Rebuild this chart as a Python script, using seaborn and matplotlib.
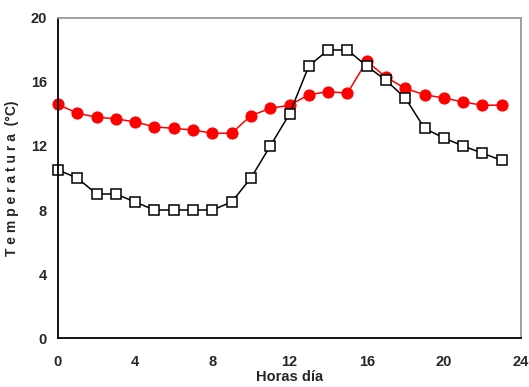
import matplotlib
matplotlib.use("Agg")
import matplotlib.pyplot as plt
import seaborn as sns
import pandas as pd

### hourly values
horas = list(range(24))
temp_rojo = [14.6, 14.05, 13.8, 13.7, 13.5, 13.2, 13.1, 13.0, 12.8, 12.8,
             13.9, 14.35, 14.55, 15.2, 15.4, 15.3, 17.3, 16.3, 15.6, 15.2,
             15.0, 14.75, 14.55, 14.55]
temp_negro = [10.5, 10.0, 9.0, 9.0, 8.5, 8.0, 8.0, 8.0, 8.0, 8.5,
              10.0, 12.0, 14.0, 17.0, 18.0, 18.0, 17.0, 16.1, 15.0, 13.1,
              12.5, 12.0, 11.55, 11.1]
xticks = [0, 4, 8, 12, 16, 20, 24]
yticks = [0, 4, 8, 12, 16, 20]

df = pd.DataFrame({'hora': horas, 'rojo': temp_rojo, 'negro': temp_negro})

sns.set_style('white')
plt.rcParams['font.family'] = ['Liberation Sans', 'DejaVu Sans']

fig = plt.figure(figsize=(5.29, 3.87), dpi=100)
ax = fig.add_axes([0.1096, 0.1266, 0.8754, 0.8269])

sns.lineplot(data=df, x='hora', y='rojo', ax=ax, color='red', lw=1.1,
             marker='o', markersize=8, markeredgecolor='red',
             markerfacecolor='red')
sns.lineplot(data=df, x='hora', y='negro', ax=ax, color='black', lw=1.1,
             marker='s', markersize=7, markeredgecolor='black',
             markerfacecolor='white', markeredgewidth=1.1)
for ln in ax.lines:
    ln.set_clip_on(False)

ax.set_xlim(0, 24)
ax.set_ylim(0, 20)
ax.set_xticks(xticks)
ax.set_yticks(yticks)
ax.set_xticklabels([str(t) for t in xticks], fontweight='bold', fontsize=10.5)
ax.set_yticklabels([str(t) for t in yticks], fontweight='bold', fontsize=10.5)
ax.tick_params(axis='x', direction='in', length=4, width=1, color='black', pad=12)
ax.tick_params(axis='y', length=0, pad=8)

for s in ['left', 'bottom']:
    ax.spines[s].set_color('black')
    ax.spines[s].set_linewidth(1.3)
for s in ['top', 'right']:
    ax.spines[s].set_color('#999999')
    ax.spines[s].set_linewidth(1.3)

ax.set_xlabel('Horas día', fontweight='bold', fontsize=10.5, labelpad=1)
ax.set_ylabel('T e m p e r a t u r a  (°C)', fontweight='bold', fontsize=10, labelpad=8)

fig.savefig('out.png', dpi=100)
